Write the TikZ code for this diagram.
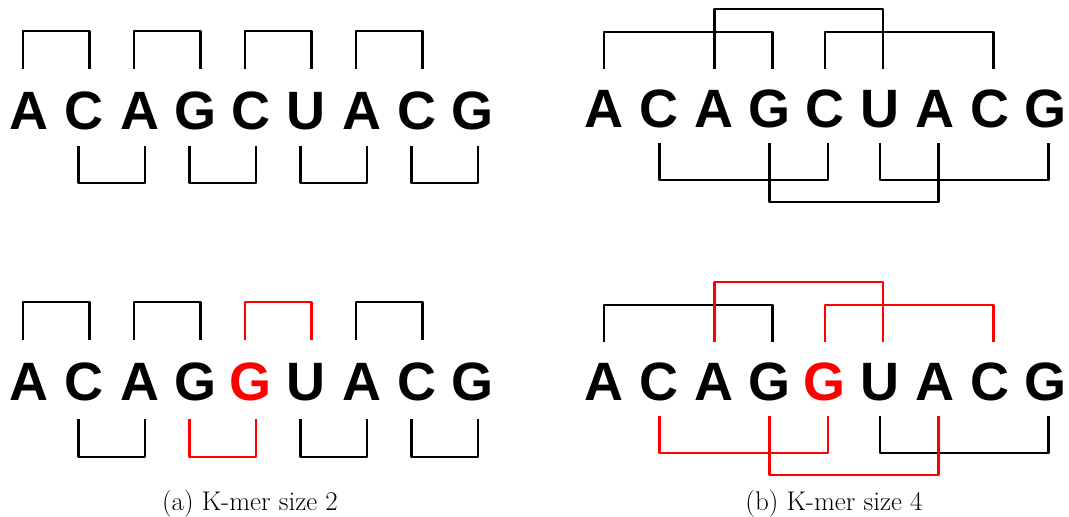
\documentclass[tikz,border=0pt]{standalone}
\usepackage{fontspec}
\newfontfamily\nucfont{Liberation Sans}
\usetikzlibrary{calc}

\begin{document}
\begin{tikzpicture}[x=1pt, y=1pt, line width=2.6pt, line join=round]
    % Styles
    \tikzstyle{nuc} = [anchor=base, inner sep=0pt, font=\nucfont\bfseries\fontsize{54}{60}\selectfont]
    \tikzstyle{caption} = [anchor=base, inner sep=0pt, font=\fontsize{27}{30}\selectfont]

    \useasboundingbox (0,0) rectangle (1069,517);

    % (a) K-mer size 2, original sequence
    \foreach \l [count=\i from 0] in {A,C,A,G,C,U,A,C,G}
        \node[nuc] (at\i) at (28.5+55.5*\i, 387) {\l};
    \foreach \i/\j in {0/1,2/3,4/5,6/7}
        \draw ($(at\i.base)+(-5.5,61)$) |- ($(at\j.base)+(5.5,99)$) -- ($(at\j.base)+(5.5,61)$);
    \foreach \i/\j in {1/2,3/4,5/6,7/8}
        \draw ($(at\i.base)+(-5.5,-16)$) |- ($(at\j.base)+(5.5,-53)$) -- ($(at\j.base)+(5.5,-16)$);

    % (a) mutated sequence
    \foreach \l/\c [count=\i from 0] in {A/black,C/black,A/black,G/black,G/red,U/black,A/black,C/black,G/black}
        \node[nuc, text=\c] (ab\i) at (28.5+55.5*\i, 116) {\l};
    \foreach \i/\j/\c in {0/1/black,2/3/black,4/5/red,6/7/black}
        \draw[\c] ($(ab\i.base)+(-5.5,61)$) |- ($(ab\j.base)+(5.5,99)$) -- ($(ab\j.base)+(5.5,61)$);
    \foreach \i/\j/\c in {1/2/black,3/4/red,5/6/black,7/8/black}
        \draw[\c] ($(ab\i.base)+(-5.5,-18)$) |- ($(ab\j.base)+(5.5,-56)$) -- ($(ab\j.base)+(5.5,-18)$);

    \node[caption] (capa) at (250, 6) {(a) K-mer size 2};

    % (b) K-mer size 4, original sequence
    \foreach \l [count=\i from 0] in {A,C,A,G,C,U,A,C,G}
        \node[nuc] (bt\i) at (604+55.2*\i, 389) {\l};
    \foreach \i/\j/\h in {0/3/96,2/5/119,4/7/96}
        \draw ($(bt\i.base)+(0,59)$) |- ($(bt\j.base)+(3,\h)$) -- ($(bt\j.base)+(3,59)$);
    \foreach \i/\j/\h in {1/4/52,3/6/74,5/8/52}
        \draw ($(bt\i.base)+(0,-15)$) |- ($(bt\j.base)+(3,-\h)$) -- ($(bt\j.base)+(3,-15)$);

    % (b) mutated sequence, black brackets first
    \foreach \l/\c [count=\i from 0] in {A/black,C/black,A/black,G/black,G/red,U/black,A/black,C/black,G/black}
        \node[nuc, text=\c] (bb\i) at (604+55.2*\i, 116) {\l};
    \draw ($(bb0.base)+(0,59)$) |- ($(bb3.base)+(3,96)$) -- ($(bb3.base)+(3,59)$);
    \draw ($(bb5.base)+(0,-15)$) |- ($(bb8.base)+(3,-52)$) -- ($(bb8.base)+(3,-15)$);
    \foreach \i/\j/\h in {2/5/119,4/7/96}
        \draw[red] ($(bb\i.base)+(0,59)$) |- ($(bb\j.base)+(3,\h)$) -- ($(bb\j.base)+(3,59)$);
    \foreach \i/\j/\h in {1/4/52,3/6/74}
        \draw[red] ($(bb\i.base)+(0,-15)$) |- ($(bb\j.base)+(3,-\h)$) -- ($(bb\j.base)+(3,-15)$);

    \node[caption] (capb) at (834, 6) {(b) K-mer size 4};
\end{tikzpicture}
\end{document}
